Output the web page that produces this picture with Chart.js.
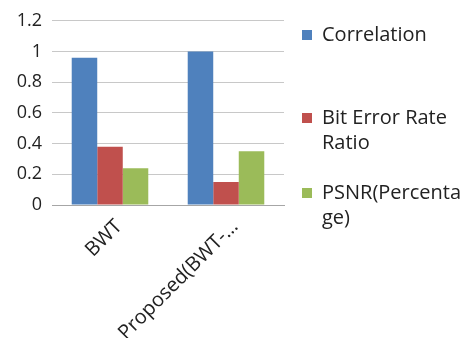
<!DOCTYPE html>
<html>
<head>
<meta charset="utf-8">
<script src="https://cdn.jsdelivr.net/npm/chart.js@4/dist/chart.umd.min.js"></script>
<style>
  html, body { margin: 0; padding: 0; background: #fff; }
  #wrap { width: 473px; height: 338px; position: relative; }
</style>
</head>
<body>
<div id="wrap"><canvas id="c"></canvas></div>
<script>
// Categories and series
const categories = ['BWT', 'Proposed(BWT-\u2026'];
const correlation = [0.96, 1.0];
const bitErrorRateRatio = [0.38, 0.15];
const psnrPercentage = [0.24, 0.35];
const yTicks = [0, 0.2, 0.4, 0.6, 0.8, 1, 1.2];

const seriesNames = ['Correlation', 'Bit Error Rate Ratio', 'PSNR(Percentage)'];
// Wrapped legend text, as laid out in the side legend
const legendLines = [['Correlation'], ['Bit Error Rate', 'Ratio'], ['PSNR(Percenta', 'ge)']];
const colors = ['#4F81BD', '#C0504D', '#9BBB59'];

const FONT = "'Open Sans', 'DejaVu Sans', sans-serif";

// Side legend drawn next to the plot
const sideLegend = {
  id: 'sideLegend',
  afterDraw(chart) {
    const ctx = chart.ctx;
    const firstLineY = [35, 118, 193];
    const lineH = 25;
    const boxX = 302, textX = 322, box = 10;
    ctx.save();
    ctx.font = '20px ' + FONT;
    ctx.textBaseline = 'middle';
    ctx.textAlign = 'left';
    chart.data.datasets.forEach((ds, i) => {
      const y0 = firstLineY[i];
      ctx.fillStyle = ds.backgroundColor;
      ctx.fillRect(boxX, y0 - box / 2, box, box);
      ctx.fillStyle = '#222';
      legendLines[i].forEach((line, j) => {
        ctx.fillText(line, textX, y0 + j * lineH);
      });
    });
    ctx.restore();
  }
};

new Chart(document.getElementById('c'), {
  type: 'bar',
  data: {
    labels: categories,
    datasets: [
      { label: seriesNames[0], data: correlation, backgroundColor: colors[0] },
      { label: seriesNames[1], data: bitErrorRateRatio, backgroundColor: colors[1] },
      { label: seriesNames[2], data: psnrPercentage, backgroundColor: colors[2] }
    ]
  },
  options: {
    responsive: true,
    maintainAspectRatio: false,
    animation: false,
    layout: { padding: { top: 12, right: 189, left: 0, bottom: 0 } },
    datasets: { bar: { categoryPercentage: 0.66, barPercentage: 1.0, borderWidth: 0 } },
    plugins: { legend: { display: false }, tooltip: { enabled: false } },
    scales: {
      x: {
        grid: { display: false, drawTicks: false },
        border: { display: true, color: '#a6a6a6', width: 1 },
        ticks: {
          color: '#222',
          font: { family: FONT, size: 20 },
          minRotation: 45, maxRotation: 45,
          padding: 10,
          labelOffset: 9
        },
        afterFit(s) { s.height = 133; }
      },
      y: {
        min: 0, max: 1.2,
        afterBuildTicks(s) { s.ticks = yTicks.map(v => ({ value: v })); },
        grid: { color: '#c8c8c8', lineWidth: 1, drawTicks: false },
        border: { display: false },
        ticks: {
          color: '#222',
          font: { family: FONT, size: 18 },
          padding: 10,
          callback: v => String(v)
        },
        afterFit(s) { s.width = 52; }
      }
    }
  },
  plugins: [sideLegend]
});
</script>
</body>
</html>
